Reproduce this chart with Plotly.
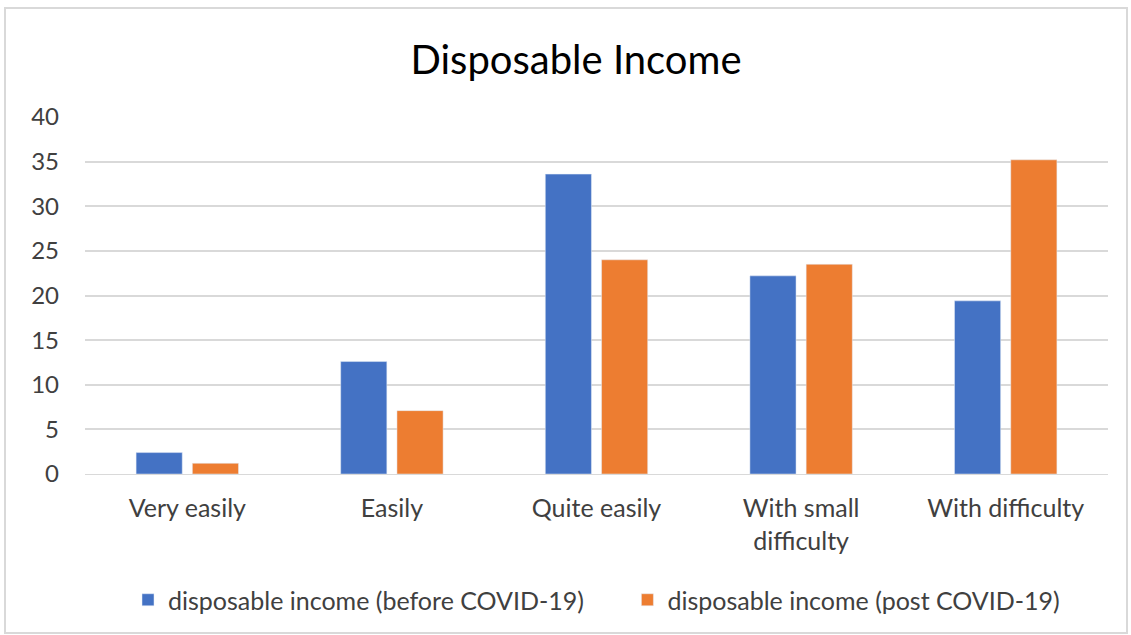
import plotly.graph_objects as go

categories = ["Very easily", "Easily", "Quite easily", "With small<br>difficulty", "With difficulty"]
before_covid = [2.4, 12.6, 33.6, 22.2, 19.4]
post_covid = [1.2, 7.1, 24.0, 23.5, 35.2]
series_names = ["disposable income (before COVID-19)", "disposable income (post COVID-19)"]
y_ticks = [0, 5, 10, 15, 20, 25, 30, 35, 40]

FONT = "Lato, 'Open Sans', sans-serif"

fig = go.Figure()
fig.add_trace(go.Bar(x=categories, y=before_covid, name=series_names[0] + "\u00a0" * 6,
                     marker_color="#4472C4"))
fig.add_trace(go.Bar(x=categories, y=post_covid, name=series_names[1], marker_color="#ED7D31"))

W, H = 1131, 635
ml, mr, mt, mb = 85, 23, 117, 161

fig.update_layout(
    width=W, height=H,
    margin=dict(l=ml, r=mr, t=mt, b=mb),
    paper_bgcolor="white", plot_bgcolor="white",
    font=dict(family=FONT, color="#404040", size=24),
    title=dict(text="Disposable Income", x=576 / W, xanchor="center", xref="container",
               y=1 - 60 / H, yanchor="middle", yref="container",
               font=dict(size=40, color="#000000", family=FONT)),
    barmode="group", bargap=0.45, bargroupgap=0.18,
    showlegend=True,
    legend=dict(orientation="h", x=0.5, xanchor="center", y=-(600 - 474) / (H - mt - mb), yanchor="middle",
                font=dict(size=25, color="#404040", family=FONT), itemwidth=30,
                traceorder="normal"),
    xaxis=dict(showgrid=False, showline=True, linecolor="#D9D9D9", ticks="",
               tickfont=dict(size=25, color="#404040"), ticklabelstandoff=12),
    yaxis=dict(range=[0, 40], tickvals=y_ticks, showgrid=True, gridcolor="#D9D9D9", gridwidth=1.5,
               zeroline=False, showline=False, ticks="", ticklabelstandoff=25,
               tickfont=dict(size=24, color="#404040")),
)

# outer chart frame
pw = W - ml - mr
ph = H - mt - mb
x0 = (5 - ml) / pw
x1 = (1127 - ml) / pw
y1 = (H - 8 - mb) / ph
y0 = (-mb + 2) / ph
fig.add_shape(type="rect", xref="paper", yref="paper", x0=x0, x1=x1, y0=y0, y1=y1,
              line=dict(color="#D9D9D9", width=2), fillcolor="rgba(0,0,0,0)", layer="below")

fig.write_html("out.html")
